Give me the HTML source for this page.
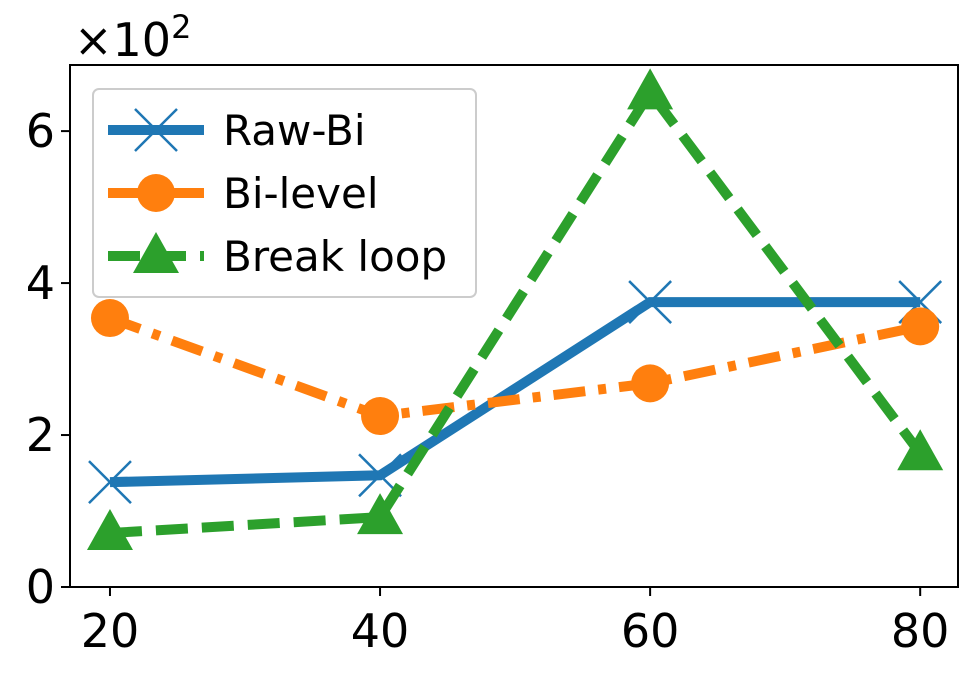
<!DOCTYPE html>
<html><head><meta charset="utf-8"><style>
html,body{margin:0;padding:0;background:#fff;}
svg{display:block;font-family:"DejaVu Sans","Liberation Sans",sans-serif;}
</style></head><body>
<svg id="chart" width="977" height="674" viewBox="0 0 977 674" xmlns="http://www.w3.org/2000/svg">
<g id="plot"></g>
</svg>
<script>
const categories = [20, 40, 60, 80];
const rawBi = [1.38, 1.47, 3.75, 3.75];
const biLevel = [3.54, 2.25, 2.68, 3.43];
const breakLoop = [0.71, 0.92, 6.51, 1.76];
const yTicks = [0, 2, 4, 6];
const xTicks = [20, 40, 60, 80];
const seriesNames = ["Raw-Bi", "Bi-level", "Break loop"];

const L = 70, R = 958, T = 65, B = 587;
const xMin = 17.04, xMax = 82.8, yMin = 0, yMax = 6.87;
function xs(v){ return L + (v - xMin) / (xMax - xMin) * (R - L); }
function ys(v){ return B - (v - yMin) / (yMax - yMin) * (B - T); }

const NS = "http://www.w3.org/2000/svg";
const g = document.getElementById('plot');
function mk(tag, attrs, parent){
  const e = document.createElementNS(NS, tag);
  for (const k in attrs) e.setAttribute(k, attrs[k]);
  (parent || g).appendChild(e);
  return e;
}

const frame = mk('rect', {x:L, y:T, width:R-L, height:B-T, fill:'none', stroke:'#000', 'stroke-width':2});



yTicks.forEach(t => {
  const y = ys(t);
  const tk = mk('line', {x1:L-9, x2:L, y1:y, y2:y, stroke:'#000', 'stroke-width':2});
  
  
  const tx = mk('text', {x:L-15, y:y+16, 'font-size':46, 'text-anchor':'end', fill:'#000'});
  tx.textContent = t;
  
  
});
xTicks.forEach(t => {
  const x = xs(t);
  const tk = mk('line', {x1:x, x2:x, y1:B, y2:B+9, stroke:'#000', 'stroke-width':2});
  
  
  const tx = mk('text', {x:x, y:B+60, 'font-size':46, 'text-anchor':'middle', fill:'#000'});
  tx.textContent = t;
  
  
});
const off = mk('text', {x:74, y:56, 'font-size':46, fill:'#000'});
off.innerHTML = '×10<tspan dy="-18" font-size="32">2</tspan>';



function marker(type, x, y, color, parent){
  let e;
  if (type === 'x') {
    e = mk('path', {d:`M${x-21},${y-21}L${x+21},${y+21}M${x-21},${y+21}L${x+21},${y-21}`, stroke:color, 'stroke-width':2.5, fill:'none'}, parent);
  } else if (type === 'o') {
    e = mk('circle', {cx:x, cy:y, r:19, fill:color}, parent);
  } else {
    e = mk('path', {d:`M${x},${y-24}L${x+23},${y+17}L${x-23},${y+17}Z`, fill:color}, parent);
  }
  return e;
}

const series = [
  {data: rawBi, color:'#1f77b4', dash:'', m:'x', name:'raw-bi'},
  {data: biLevel, color:'#ff7f0e', dash:'32 13 8 13', m:'o', name:'bi-level'},
  {data: breakLoop, color:'#2ca02c', dash:'32 14', m:'^', name:'break-loop'}
];
series.forEach(s => {
  const grp = mk('g', {});
  
  
  const pts = s.data.map((v,i) => xs(categories[i]) + ',' + ys(v)).join(' ');
  const pl = mk('polyline', {points:pts, fill:'none', stroke:s.color, 'stroke-width':10, 'stroke-dasharray':s.dash}, grp);
  
  
  s.data.forEach((v,i) => {
    const mm = marker(s.m, xs(categories[i]), ys(v), s.color, grp);
    
    
  });
});

const lg = mk('g', {});


mk('rect', {x:93, y:89, width:383, height:208, rx:6, fill:'#fff', 'fill-opacity':0.8, stroke:'#ccc', 'stroke-width':2}, lg);
series.forEach((s,i) => {
  const y = 130 + i*63;
  const e = mk('g', {}, lg);
  
  
  mk('line', {x1:108, x2:204, y1:y, y2:y, stroke:s.color, 'stroke-width':10, 'stroke-dasharray':s.dash}, e);
  marker(s.m, 156, y, s.color, e);
  const t = mk('text', {x:223, y:y+15, 'font-size':42, fill:'#000'}, e);
  t.textContent = seriesNames[i];
});
</script>
</body></html>
